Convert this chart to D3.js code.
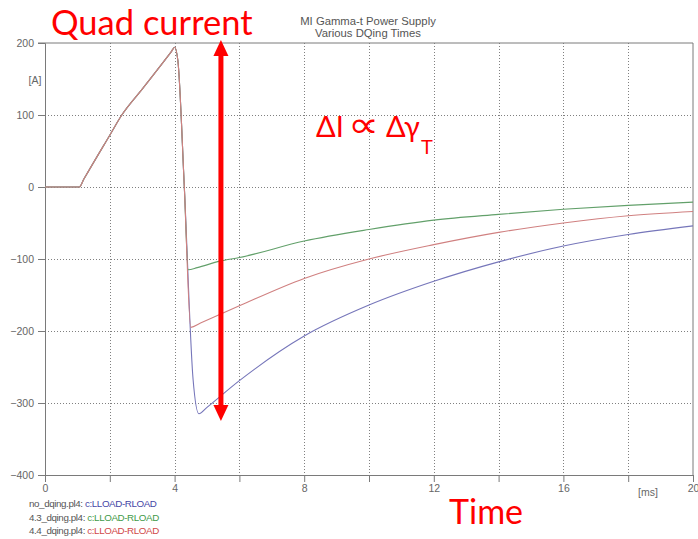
<!DOCTYPE html>
<html>
<head>
<meta charset="utf-8">
<script src="https://cdn.jsdelivr.net/npm/d3@7"></script>
<style>
  body { margin: 0; background: #fff; }
  svg { display: block; }
</style>
</head>
<body>
<svg id="chart"></svg>
<script>
// shared part of all three runs: ramp up, then the fast drop
const rampT = [0, 1.06, 1.2, 2, 2.37, 3, 3.9, 4.0, 4.1, 4.3];
const rampI = [0, 0, 11, 72, 100, 136, 188, 194, 176, 0];
// after the drop, per run
const noDqT = [4.57, 4.75, 5, 6, 8, 10, 12, 14, 16, 18, 20];
const noDqI = [-267, -315, -306, -269, -207, -164, -131, -104, -82, -66, -54];
const dq43T = [4.42, 4.7, 5.4, 6, 8, 10, 12, 14, 16, 18, 20];
const dq43I = [-115, -112, -103, -98, -75, -59, -46, -38, -31, -25.5, -21];
const dq44T = [4.5, 4.8, 6, 8, 10, 12, 14, 16, 18, 20];
const dq44I = [-195, -189, -165, -127, -100, -80, -63, -50, -40, -34];

const seriesNames = ["no_dqing.pl4:", "4.3_dqing.pl4:", "4.4_dqing.pl4:"];
const seriesSignal = "c:LLOAD-RLOAD";
const lineColors = ["#7676ba", "#62a06a", "#d08080"];
const textColors = ["#4646a6", "#3f9a48", "#d04848"];

const xTicks = [0, 4, 8, 12, 16, 20];
const xMinor = [0, 2, 4, 6, 8, 10, 12, 14, 16, 18, 20];
const yTicks = [200, 100, 0, -100, -200, -300, -400];

// annotation arrow (time, current) end points
const arrowT = 5.43;
const arrowTop = 204, arrowBottom = -325;

const width = 698, height = 539;
const margin = {top: 43, right: 5, bottom: 64, left: 45};

const svg = d3.select("#chart").attr("width", width).attr("height", height);

const x = d3.scaleLinear().domain([0, 20]).range([margin.left, width - margin.right]);
const y = d3.scaleLinear().domain([-400, 200]).range([height - margin.bottom, margin.top]);

const axisColor = "#7a7a7a";
const labelColor = "#666";
const font = "'Liberation Sans', Arial, sans-serif";

// grid
const grid = svg.append("g").attr("stroke", "#808080").attr("stroke-dasharray", "1,2").attr("stroke-width", 1);
grid.selectAll("line.v").data(xMinor.filter(d => d > 0 && d < 20)).join("line")
  .attr("x1", d => Math.round(x(d)) + 0.5).attr("x2", d => Math.round(x(d)) + 0.5)
  .attr("y1", y(200)).attr("y2", y(-400));
grid.selectAll("line.h").data(yTicks.filter(d => d < 200 && d > -400)).join("line")
  .attr("x1", x(0)).attr("x2", x(20))
  .attr("y1", d => Math.round(y(d)) + 0.5).attr("y2", d => Math.round(y(d)) + 0.5);

// axes
const yAxis = svg.append("g")
  .attr("transform", `translate(${x(0)},0)`)
  .call(d3.axisLeft(y).tickValues(yTicks).tickSize(7).tickPadding(4));
const xAxis = svg.append("g")
  .attr("transform", `translate(0,${y(-400)})`)
  .call(d3.axisBottom(x).tickValues(xMinor).tickSize(7).tickPadding(3)
    .tickFormat(d => xTicks.includes(d) ? d : ""));
[xAxis, yAxis].forEach(a => {
  a.selectAll("path, line").attr("stroke", axisColor);
  a.selectAll("text").attr("fill", labelColor).attr("font-family", font).attr("font-size", 10.5);
});

// frame top and right
svg.append("line").attr("x1", x(0) - 7).attr("x2", x(20)).attr("y1", y(200)).attr("y2", y(200))
  .attr("stroke", axisColor);
svg.append("line").attr("x1", x(20)).attr("x2", x(20)).attr("y1", y(200)).attr("y2", y(-400))
  .attr("stroke", axisColor);

// units
svg.append("text").attr("x", 35).attr("y", 84).attr("text-anchor", "middle")
  .attr("fill", labelColor).attr("font-family", font).attr("font-size", 10.5).text("[A]");
svg.append("text").attr("x", 648).attr("y", 496).attr("text-anchor", "middle")
  .attr("fill", labelColor).attr("font-family", font).attr("font-size", 10.5).text("[ms]");

// title
const title = svg.append("text").attr("text-anchor", "middle").attr("fill", "#555")
  .attr("font-family", font).attr("font-size", 11.3);
title.append("tspan").attr("x", 368).attr("y", 25).text("MI Gamma-t Power Supply");
title.append("tspan").attr("x", 368).attr("y", 37).text("Various DQing Times");

// curves
const build = (ts, vs) => rampT.map((t, i) => [t, rampI[i]]).concat(ts.map((t, i) => [t, vs[i]]));
const series = [build(noDqT, noDqI), build(dq43T, dq43I), build(dq44T, dq44I)];
const line = d3.line().x(d => x(d[0])).y(d => y(d[1])).curve(d3.curveMonotoneX);
svg.append("g").attr("fill", "none").attr("stroke-width", 1.1)
  .selectAll("path").data(series).join("path")
  .attr("stroke", (d, i) => lineColors[i])
  .attr("d", line);

// legend
const legend = svg.append("g").attr("font-family", font).attr("font-size", 9.8)
  .attr("letter-spacing", -0.4);
seriesNames.forEach((name, i) => {
  const t = legend.append("text").attr("x", 29).attr("y", 507 + i * 13.5);
  t.append("tspan").attr("fill", "#555").text(name + " ");
  t.append("tspan").attr("fill", textColors[i]).text(seriesSignal);
});

// annotations
const red = "#ff0000";
const ax = x(arrowT), ay1 = y(arrowTop), ay2 = y(arrowBottom);
const headLen = 16, headHalf = 7.5;
svg.append("line").attr("x1", ax).attr("x2", ax).attr("y1", ay1 + headLen - 1).attr("y2", ay2 - headLen + 1)
  .attr("stroke", red).attr("stroke-width", 5);
svg.append("path").attr("fill", red)
  .attr("d", `M${ax},${ay1}L${ax + headHalf},${ay1 + headLen}L${ax - headHalf},${ay1 + headLen}Z`);
svg.append("path").attr("fill", red)
  .attr("d", `M${ax},${ay2}L${ax + headHalf},${ay2 - headLen}L${ax - headHalf},${ay2 - headLen}Z`);

const bigFont = "Lato, 'Open Sans', sans-serif";
svg.append("text").attr("x", 51).attr("y", 35).attr("fill", red)
  .attr("font-family", bigFont).attr("font-size", 34.5).text("Quad current");
svg.append("text").attr("x", 449).attr("y", 524).attr("fill", red)
  .attr("font-family", bigFont).attr("font-size", 34).text("Time");
const eq = svg.append("g").attr("fill", red).attr("font-family", bigFont);
eq.append("text").attr("x", 316).attr("y", 137).attr("font-size", 29).text("ΔI");
eq.append("text").attr("transform", "translate(348,137) scale(1.45,1.2)").attr("font-size", 30)
  .attr("font-family", "'DejaVu Sans', sans-serif").text("∝");
eq.append("text").attr("x", 386).attr("y", 137).attr("font-size", 29).text("Δγ");
eq.append("text").attr("x", 421).attr("y", 154).attr("font-size", 20).text("T");
</script>
</body>
</html>
